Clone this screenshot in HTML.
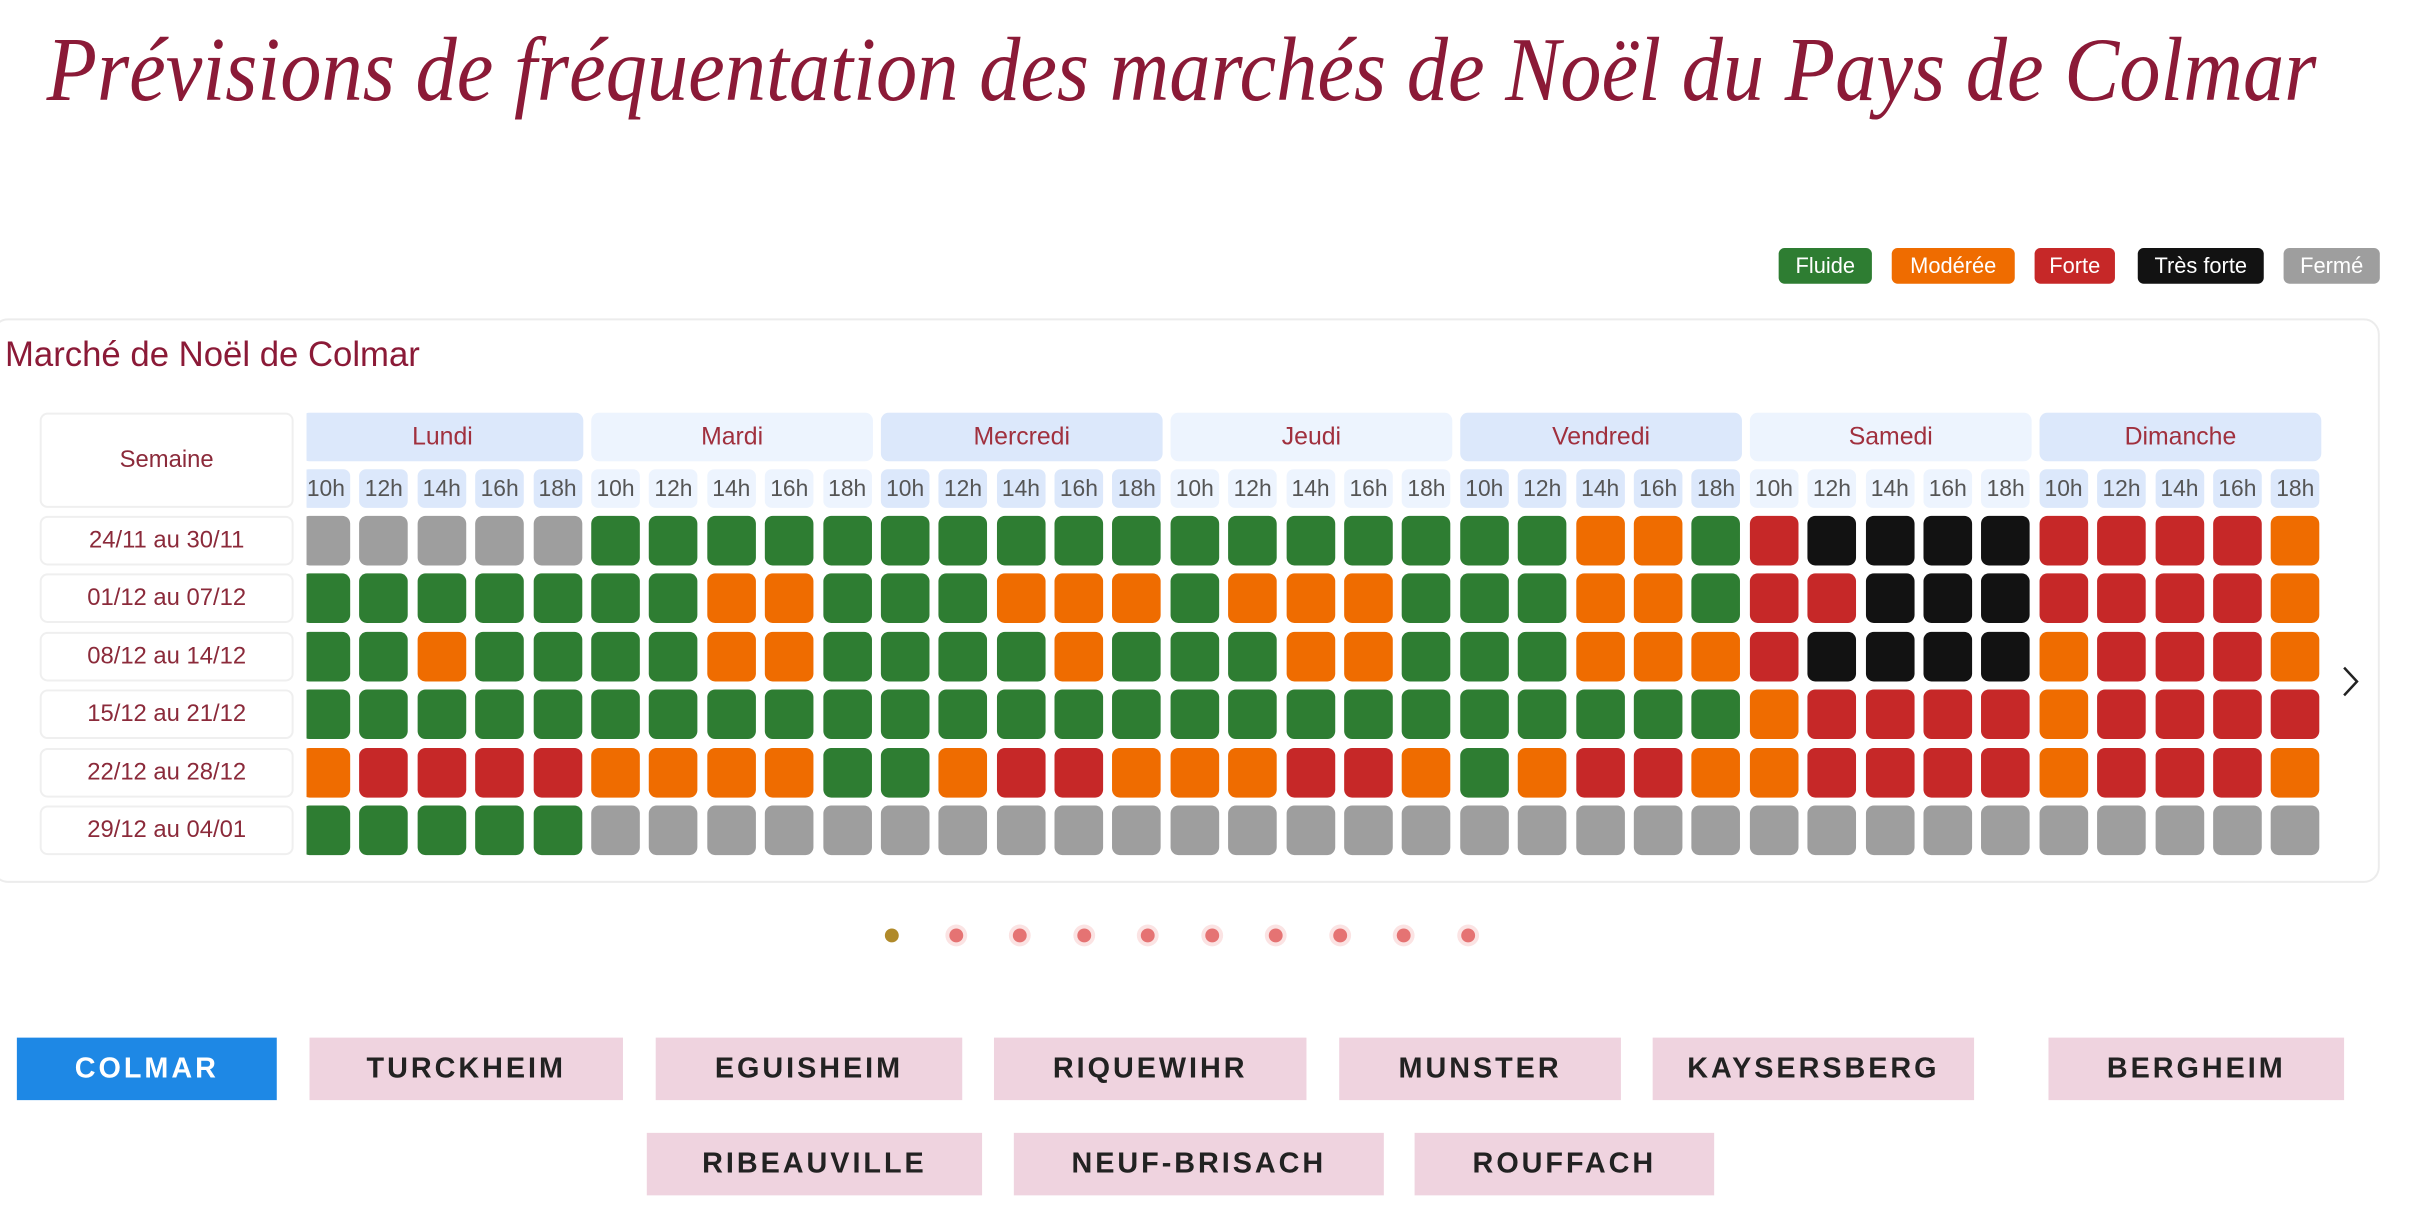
<!DOCTYPE html>
<html><head><meta charset="utf-8"><style>
*{box-sizing:border-box;margin:0;padding:0}
body{width:2414px;height:1208px;background:#fff;position:relative;overflow:hidden;font-family:"Liberation Sans",sans-serif}
#w{position:absolute;left:0;top:0;width:2414px;height:1208px;transform:scale(0.992);transform-origin:0 0}
.lg{position:absolute;top:250px;height:36px;border-radius:6px;color:#fff;font-size:22px;line-height:36px;text-align:center}
.card{position:absolute;left:-8px;top:321px;width:2407px;height:569px;border:2px solid #ececec;border-radius:16px}
.ct{position:absolute;left:5px;top:338px;font-size:35px;color:#8b1a37}
.sem{position:absolute;left:40px;width:256px;border:2px solid #efefef;border-radius:8px;background:#fff;color:#8b2a3a;text-align:center;font-size:24px}
.grid{position:absolute;left:309px;top:416px;width:2050px;height:460px;overflow:hidden}
.in{position:absolute;left:-5px;top:0;width:2100px}
.r{display:flex;position:absolute;left:0}
.d{width:284px;margin-right:8px;height:49px;border-radius:8px;text-align:center;line-height:49px;font-size:25px;color:#a0303e}
.a{background:#dce8fb}.b{background:#edf4fe}
.h{width:49px;margin-right:9.4px;height:39px;border-radius:7px;text-align:center;line-height:39px;font-size:23px;color:#555}
.r i{display:block;width:49px;margin-right:9.4px;height:50px;border-radius:8px}
.g{background:#2e7d32}.o{background:#ef6c00}.x{background:#c62828}.k{background:#121212}.f{background:#9e9e9e}
.dot{position:absolute;top:932px;width:22px;height:22px;border-radius:50%;background:#fbe3e3}
.dot:after{content:"";position:absolute;left:4px;top:4px;width:14px;height:14px;border-radius:50%;background:#e57373}
.btn{position:absolute;height:63px;background:#efd3df;color:#222;font-weight:bold;font-size:29px;letter-spacing:3px;text-align:center;line-height:63px}
</style></head><body><div id="w">
<svg style="position:absolute;left:0;top:0" width="2414" height="140"><text x="47" y="101" textLength="2288" lengthAdjust="spacingAndGlyphs" font-family="Liberation Serif, serif" font-style="italic" font-size="92" fill="#8b1a37">Prévisions de fréquentation des marchés de Noël du Pays de Colmar</text></svg>
<div class="lg" style="left:1793px;width:94px;background:#2e7d32">Fluide</div>
<div class="lg" style="left:1907px;width:124px;background:#ef6c00">Modérée</div>
<div class="lg" style="left:2051px;width:81px;background:#c62828">Forte</div>
<div class="lg" style="left:2155px;width:127px;background:#121212">Très forte</div>
<div class="lg" style="left:2302px;width:97px;background:#9e9e9e">Fermé</div>
<div class="card"></div>
<div class="ct">Marché de Noël de Colmar</div>
<div class="sem" style="top:416px;height:96px;line-height:92px">Semaine</div>
<div class="sem" style="top:520px;height:50px;line-height:46px">24/11 au 30/11</div>
<div class="sem" style="top:578px;height:50px;line-height:46px">01/12 au 07/12</div>
<div class="sem" style="top:637px;height:50px;line-height:46px">08/12 au 14/12</div>
<div class="sem" style="top:695px;height:50px;line-height:46px">15/12 au 21/12</div>
<div class="sem" style="top:754px;height:50px;line-height:46px">22/12 au 28/12</div>
<div class="sem" style="top:812px;height:50px;line-height:46px">29/12 au 04/01</div>
<div class="grid"><div class="in">
<div class="r" style="top:0"><div class="d a">Lundi</div><div class="d b">Mardi</div><div class="d a">Mercredi</div><div class="d b">Jeudi</div><div class="d a">Vendredi</div><div class="d b">Samedi</div><div class="d a">Dimanche</div></div>
<div class="r" style="top:57px">
<div class="h a">10h</div><div class="h a">12h</div><div class="h a">14h</div><div class="h a">16h</div><div class="h a">18h</div>
<div class="h b">10h</div><div class="h b">12h</div><div class="h b">14h</div><div class="h b">16h</div><div class="h b">18h</div>
<div class="h a">10h</div><div class="h a">12h</div><div class="h a">14h</div><div class="h a">16h</div><div class="h a">18h</div>
<div class="h b">10h</div><div class="h b">12h</div><div class="h b">14h</div><div class="h b">16h</div><div class="h b">18h</div>
<div class="h a">10h</div><div class="h a">12h</div><div class="h a">14h</div><div class="h a">16h</div><div class="h a">18h</div>
<div class="h b">10h</div><div class="h b">12h</div><div class="h b">14h</div><div class="h b">16h</div><div class="h b">18h</div>
<div class="h a">10h</div><div class="h a">12h</div><div class="h a">14h</div><div class="h a">16h</div><div class="h a">18h</div>
</div>
<div class="r" style="top:104px"><i class=f></i><i class=f></i><i class=f></i><i class=f></i><i class=f></i><i class=g></i><i class=g></i><i class=g></i><i class=g></i><i class=g></i><i class=g></i><i class=g></i><i class=g></i><i class=g></i><i class=g></i><i class=g></i><i class=g></i><i class=g></i><i class=g></i><i class=g></i><i class=g></i><i class=g></i><i class=o></i><i class=o></i><i class=g></i><i class=x></i><i class=k></i><i class=k></i><i class=k></i><i class=k></i><i class=x></i><i class=x></i><i class=x></i><i class=x></i><i class=o></i></div>
<div class="r" style="top:162px"><i class=g></i><i class=g></i><i class=g></i><i class=g></i><i class=g></i><i class=g></i><i class=g></i><i class=o></i><i class=o></i><i class=g></i><i class=g></i><i class=g></i><i class=o></i><i class=o></i><i class=o></i><i class=g></i><i class=o></i><i class=o></i><i class=o></i><i class=g></i><i class=g></i><i class=g></i><i class=o></i><i class=o></i><i class=g></i><i class=x></i><i class=x></i><i class=k></i><i class=k></i><i class=k></i><i class=x></i><i class=x></i><i class=x></i><i class=x></i><i class=o></i></div>
<div class="r" style="top:221px"><i class=g></i><i class=g></i><i class=o></i><i class=g></i><i class=g></i><i class=g></i><i class=g></i><i class=o></i><i class=o></i><i class=g></i><i class=g></i><i class=g></i><i class=g></i><i class=o></i><i class=g></i><i class=g></i><i class=g></i><i class=o></i><i class=o></i><i class=g></i><i class=g></i><i class=g></i><i class=o></i><i class=o></i><i class=o></i><i class=x></i><i class=k></i><i class=k></i><i class=k></i><i class=k></i><i class=o></i><i class=x></i><i class=x></i><i class=x></i><i class=o></i></div>
<div class="r" style="top:279px"><i class=g></i><i class=g></i><i class=g></i><i class=g></i><i class=g></i><i class=g></i><i class=g></i><i class=g></i><i class=g></i><i class=g></i><i class=g></i><i class=g></i><i class=g></i><i class=g></i><i class=g></i><i class=g></i><i class=g></i><i class=g></i><i class=g></i><i class=g></i><i class=g></i><i class=g></i><i class=g></i><i class=g></i><i class=g></i><i class=o></i><i class=x></i><i class=x></i><i class=x></i><i class=x></i><i class=o></i><i class=x></i><i class=x></i><i class=x></i><i class=x></i></div>
<div class="r" style="top:338px"><i class=o></i><i class=x></i><i class=x></i><i class=x></i><i class=x></i><i class=o></i><i class=o></i><i class=o></i><i class=o></i><i class=g></i><i class=g></i><i class=o></i><i class=x></i><i class=x></i><i class=o></i><i class=o></i><i class=o></i><i class=x></i><i class=x></i><i class=o></i><i class=g></i><i class=o></i><i class=x></i><i class=x></i><i class=o></i><i class=o></i><i class=x></i><i class=x></i><i class=x></i><i class=x></i><i class=o></i><i class=x></i><i class=x></i><i class=x></i><i class=o></i></div>
<div class="r" style="top:396px"><i class=g></i><i class=g></i><i class=g></i><i class=g></i><i class=g></i><i class=f></i><i class=f></i><i class=f></i><i class=f></i><i class=f></i><i class=f></i><i class=f></i><i class=f></i><i class=f></i><i class=f></i><i class=f></i><i class=f></i><i class=f></i><i class=f></i><i class=f></i><i class=f></i><i class=f></i><i class=f></i><i class=f></i><i class=f></i><i class=f></i><i class=f></i><i class=f></i><i class=f></i><i class=f></i><i class=f></i><i class=f></i><i class=f></i><i class=f></i><i class=f></i></div>
</div></div>
<svg style="position:absolute;left:2358px;top:670px" width="24" height="34"><polyline points="5,3 18,17 5,31" fill="none" stroke="#222" stroke-width="2.5"/></svg>
<div style="position:absolute;left:892px;top:936px;width:14px;height:14px;border-radius:50%;background:#b08a2a"></div>
<div class="dot" style="left:953px"></div><div class="dot" style="left:1017px"></div><div class="dot" style="left:1082px"></div><div class="dot" style="left:1146px"></div><div class="dot" style="left:1211px"></div><div class="dot" style="left:1275px"></div><div class="dot" style="left:1340px"></div><div class="dot" style="left:1404px"></div><div class="dot" style="left:1469px"></div>
<div class="btn" style="left:17px;top:1046px;width:262px;background:#1e88e5;color:#fff">COLMAR</div>
<div class="btn" style="left:312px;top:1046px;width:316px">TURCKHEIM</div>
<div class="btn" style="left:661px;top:1046px;width:309px">EGUISHEIM</div>
<div class="btn" style="left:1002px;top:1046px;width:315px">RIQUEWIHR</div>
<div class="btn" style="left:1350px;top:1046px;width:284px">MUNSTER</div>
<div class="btn" style="left:1666px;top:1046px;width:324px">KAYSERSBERG</div>
<div class="btn" style="left:2065px;top:1046px;width:298px">BERGHEIM</div>
<div class="btn" style="left:652px;top:1142px;width:338px">RIBEAUVILLE</div>
<div class="btn" style="left:1022px;top:1142px;width:373px">NEUF-BRISACH</div>
<div class="btn" style="left:1426px;top:1142px;width:302px">ROUFFACH</div>
</div></body></html>
